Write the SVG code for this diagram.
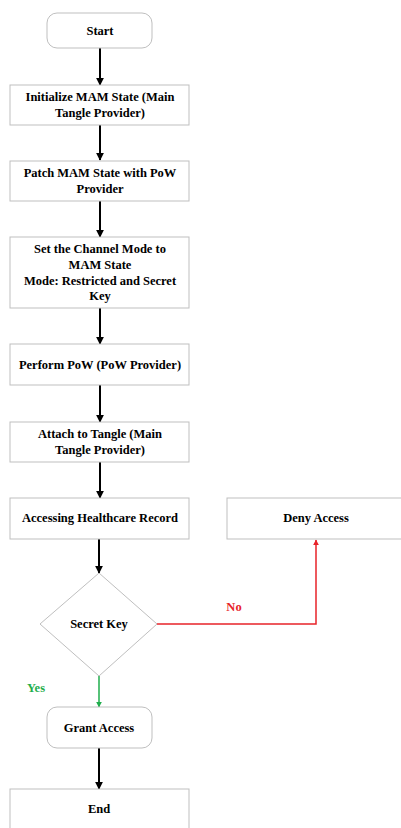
<svg xmlns="http://www.w3.org/2000/svg" width="401" height="828" viewBox="0 0 401 828">
<style>
.box{fill:#fff;stroke:#bfbfbf;stroke-width:1}
.t{font-family:'Liberation Serif','DejaVu Serif',serif;font-weight:700;font-size:12.5px;fill:#000;text-anchor:middle}
.e{fill:none;stroke:#000;stroke-width:2}
</style>
<defs>
<marker id="ab" viewBox="0 0 10 10" refX="9" refY="5" markerWidth="4" markerHeight="4" orient="auto"><path d="M0,0L10,5L0,10z" fill="#000"/></marker>
<marker id="ar" viewBox="0 0 10 10" refX="9" refY="5" markerWidth="4" markerHeight="4" orient="auto"><path d="M0,0L10,5L0,10z" fill="#e8232a"/></marker>
<marker id="ag" viewBox="0 0 10 10" refX="9" refY="5" markerWidth="4" markerHeight="4" orient="auto"><path d="M0,0L10,5L0,10z" fill="#1fae4c"/></marker>
</defs>
<rect width="401" height="828" fill="#fff"/>
<g id="connectors">
<line class="e" x1="100" y1="48" x2="100" y2="85" marker-end="url(#ab)"/>
<line class="e" x1="100" y1="125" x2="100" y2="160" marker-end="url(#ab)"/>
<line class="e" x1="100" y1="201" x2="100" y2="237" marker-end="url(#ab)"/>
<line class="e" x1="100" y1="308" x2="100" y2="344" marker-end="url(#ab)"/>
<line class="e" x1="100" y1="385" x2="100" y2="422" marker-end="url(#ab)"/>
<line class="e" x1="100" y1="462" x2="100" y2="498" marker-end="url(#ab)"/>
<line class="e" x1="99" y1="539" x2="99" y2="573" marker-end="url(#ab)"/>
<polyline fill="none" stroke="#e8232a" stroke-width="1.5" points="157,624 316,624 316,540" marker-end="url(#ar)"/>
<line stroke="#1fae4c" stroke-width="1.5" x1="99" y1="676" x2="99" y2="707" marker-end="url(#ag)"/>
<line class="e" x1="99" y1="748" x2="99" y2="789" marker-end="url(#ab)"/>
<text x="234" y="611" font-family="Liberation Serif, serif" class="t" style="fill:#e8232a">No</text>
<text x="36" y="692" font-family="Liberation Serif, serif" class="t" style="fill:#1fae4c">Yes</text>
</g>
<g id="start"><rect class="box" x="47" y="13" width="105" height="35" rx="10"/><text class="t" x="100" y="35">Start</text></g>
<g id="init"><rect class="box" x="10" y="85" width="179" height="40"/><text class="t" x="100" y="101">Initialize MAM State (Main</text><text class="t" x="100" y="117">Tangle Provider)</text></g>
<g id="patch"><rect class="box" x="10" y="161" width="179" height="40"/><text class="t" x="100" y="177">Patch MAM State with PoW</text><text class="t" x="100" y="193">Provider</text></g>
<g id="channel"><rect class="box" x="10" y="237" width="179" height="71"/><text class="t" x="100" y="253">Set the Channel Mode to</text><text class="t" x="100" y="269">MAM State</text><text class="t" x="100" y="285">Mode: Restricted and Secret</text><text class="t" x="100" y="300">Key</text></g>
<g id="pow"><rect class="box" x="10" y="344" width="179" height="41"/><text class="t" x="100" y="369">Perform PoW (PoW Provider)</text></g>
<g id="attach"><rect class="box" x="10" y="422" width="179" height="40"/><text class="t" x="100" y="438">Attach to Tangle (Main</text><text class="t" x="100" y="454">Tangle Provider)</text></g>
<g id="access"><rect class="box" x="10" y="498" width="179" height="41"/><text class="t" x="100" y="522">Accessing Healthcare Record</text></g>
<g id="deny"><rect class="box" x="227" y="498" width="180" height="41"/><text class="t" x="316" y="522">Deny Access</text></g>
<g id="secret"><polygon class="box" points="99,573 157,624 99,676 40,624"/><text class="t" x="99" y="628">Secret Key</text></g>
<g id="grant"><rect class="box" x="47" y="707" width="105" height="41" rx="10"/><text class="t" x="99" y="732">Grant Access</text></g>
<g id="end"><rect class="box" x="10" y="789" width="179" height="45"/><text class="t" x="99" y="813">End</text></g>
</svg>
